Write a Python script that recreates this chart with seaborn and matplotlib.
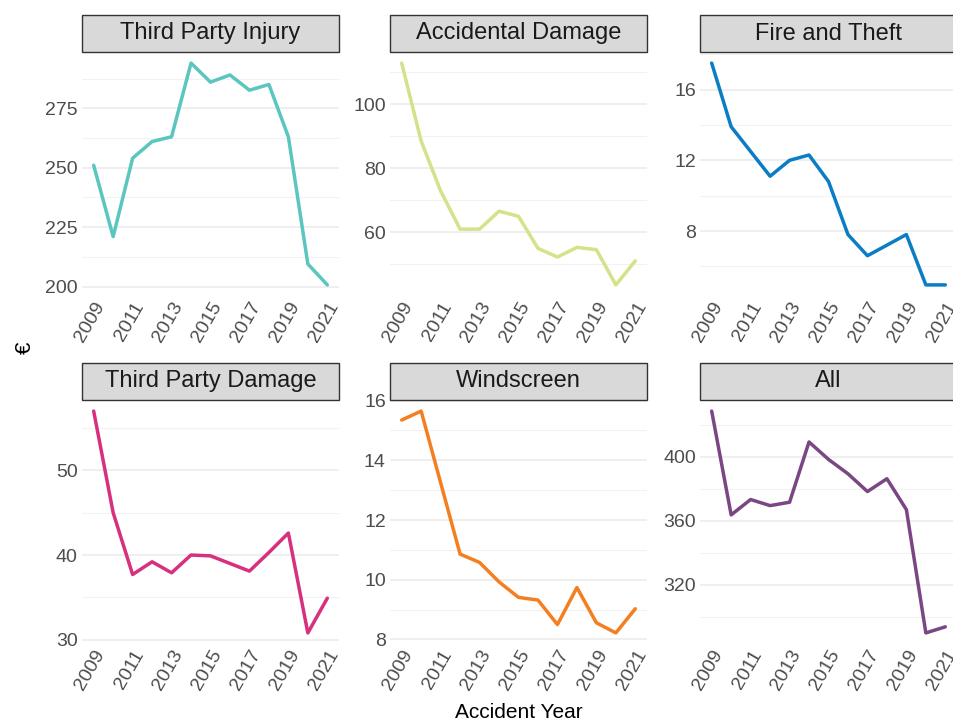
import numpy as np
import pandas as pd
import seaborn as sns
import matplotlib.pyplot as plt
from matplotlib.patches import Rectangle
from matplotlib.ticker import MultipleLocator, AutoMinorLocator

years = list(range(2009, 2022))
categories = ["Third Party Injury", "Accidental Damage", "Fire and Theft",
              "Third Party Damage", "Windscreen", "All"]

third_party_injury = [251, 221, 254, 261, 263, 294, 286, 289, 282.6, 285, 263, 209.5, 200.7]
accidental_damage = [112.8, 88.5, 72.9, 61, 61, 66.6, 65, 55, 52.3, 55.3, 54.6, 43.6, 51.1]
fire_and_theft = [17.5, 13.9, 12.5, 11.1, 12.0, 12.3, 10.8, 7.8, 6.6, 7.2, 7.8, 4.95, 4.95]
third_party_damage = [57.0, 45.0, 37.7, 39.2, 37.9, 40.0, 39.9, 39.0, 38.1, 40.3, 42.6, 30.8, 34.9]
windscreen = [15.35, 15.65, 13.25, 10.86, 10.58, 9.93, 9.41, 9.32, 8.5, 9.74, 8.56, 8.22, 9.03]
all_cover = [428.7, 363.8, 373.4, 369.6, 371.7, 409.4, 398.5, 389.5, 378.4, 386.4, 367.1, 290, 293.8]

series = [third_party_injury, accidental_damage, fire_and_theft,
          third_party_damage, windscreen, all_cover]
colors = ["#5BC6BF", "#D2E38A", "#0A7DC4", "#D7307F", "#F47F21", "#7A4784"]
y_steps = [25, 20, 4, 10, 2, 40]

df = pd.DataFrame({
    "Year": years * len(categories),
    "Value": [v for s in series for v in s],
    "Type": [c for c in categories for _ in years],
})

sns.set_theme(style="white")
plt.rcParams["font.family"] = ["Liberation Sans", "DejaVu Sans"]

g = sns.relplot(data=df, x="Year", y="Value", col="Type", hue="Type",
                col_order=categories, hue_order=categories, palette=colors,
                col_wrap=3, kind="line", legend=False, linewidth=2.5,
                facet_kws=dict(sharex=False, sharey=False))
fig = g.figure
fig.set_size_inches(9.54, 7.24)
fig.set_dpi(100)

W, H = 954, 724
lefts = [82, 390, 700]
tops = [52, 400]
aw, ah = 257, 244

for i, ax in enumerate(g.axes.flat):
    r, c = divmod(i, 3)
    ax.set_position([lefts[c] / W, 1 - (tops[r] + ah) / H, aw / W, ah / H])
    vals = series[i]
    lo, hi = min(vals), max(vals)
    pad = 0.05 * (hi - lo)
    ax.set_ylim(lo - pad, hi + pad)
    ax.set_xlim(2009 - 0.6, 2021 + 0.6)
    ax.set_xticks(years[::2])
    ax.yaxis.set_major_locator(MultipleLocator(y_steps[i]))
    ax.yaxis.set_minor_locator(AutoMinorLocator(2))
    ax.grid(False)
    ax.grid(axis="y", which="major", color="#EBEBEB", linewidth=1.1)
    ax.grid(axis="y", which="minor", color="#F2F2F2", linewidth=0.8)
    ax.set_axisbelow(True)
    for s in ax.spines.values():
        s.set_visible(False)
    ax.tick_params(axis="both", which="both", length=0, labelsize=14, labelcolor="#4D4D4D")
    ax.tick_params(axis="y", pad=3)
    ax.tick_params(axis="x", pad=2)
    for lab in ax.get_xticklabels():
        lab.set_rotation(60)
        lab.set_ha("right")
        lab.set_rotation_mode("anchor")
    ax.set_title("")
    ax.set_xlabel("")
    ax.set_ylabel("")
    sh = 37 / ah
    ax.add_patch(Rectangle((0, 1), 1, sh, transform=ax.transAxes, clip_on=False,
                           facecolor="#D9D9D9", edgecolor="#333333", linewidth=1.0))
    ax.text(0.5, 1 + sh / 2, categories[i], transform=ax.transAxes, ha="center",
            va="center", fontsize=17, color="#1A1A1A")

fig.text(519 / W, 1 - 713 / H, "Accident Year", ha="center", va="center", fontsize=15, color="black")
fig.text(25 / W, 1 - 348 / H, "€", ha="center", va="center", rotation=90, fontsize=16, color="black")

fig.savefig("out.png", dpi=100)
